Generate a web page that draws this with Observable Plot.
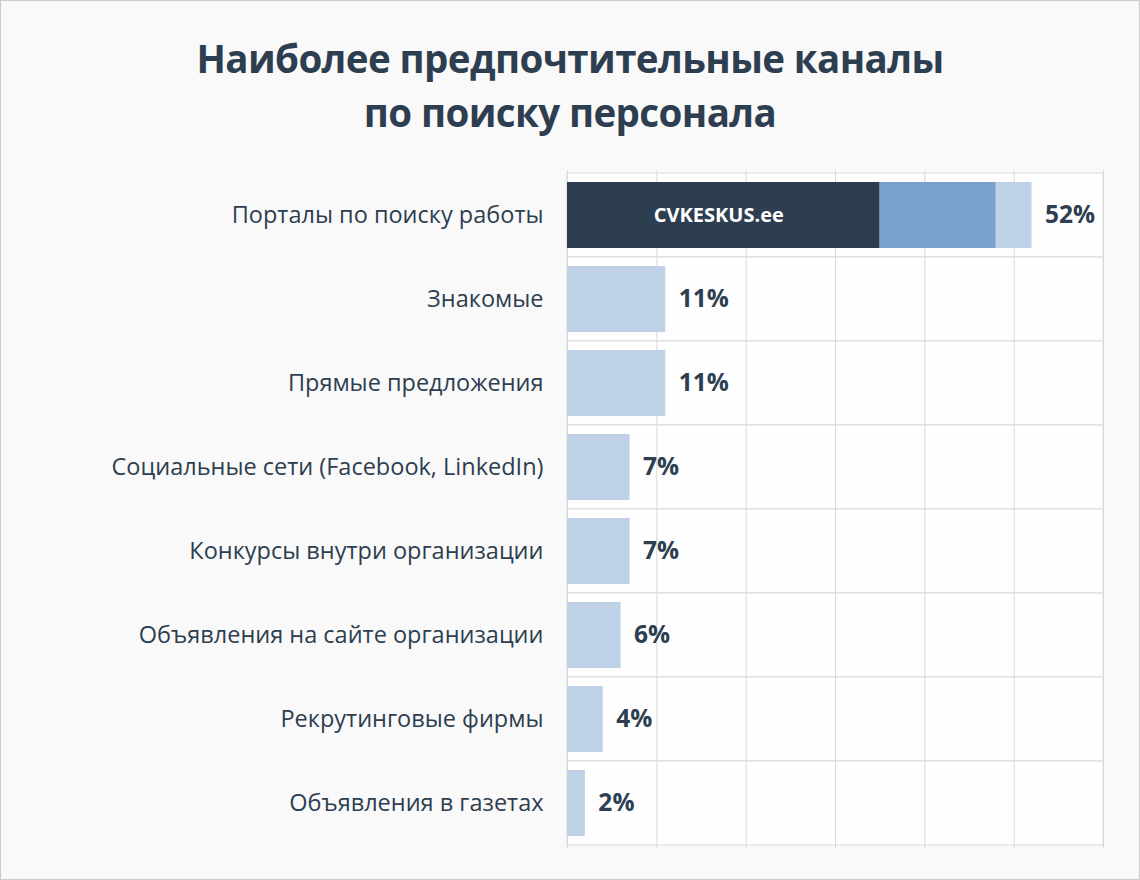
<!DOCTYPE html>
<html>
<head>
<meta charset="utf-8">
<script src="https://cdn.jsdelivr.net/npm/d3@7"></script>
<script src="https://cdn.jsdelivr.net/npm/@observablehq/plot@0.6"></script>
<style>
  html, body { margin: 0; padding: 0; background: #f9f9f9; }
  #wrap {
    width: 1140px; height: 880px; box-sizing: border-box;
    border: 1px solid #cccccc; background: #f9f9f9; overflow: hidden;
    font-family: "Open Sans", sans-serif; color: #2d3e50;
  }
  #title {
    width: 1138px; height: 148px; box-sizing: border-box;
    padding-top: 30px; text-align: center;
    font-weight: 700; font-size: 38.5px; line-height: 54px; letter-spacing: -0.6px;
    color: #2d3e50;
  }
  #chart { line-height: 0; }
  #chart svg { display: block; }
</style>
</head>
<body>
<div id="wrap">
  <div id="title">Наиболее предпочтительные каналы<br>по поиску персонала</div>
  <div id="chart"></div>
</div>
<script>
const categories = [
  "Порталы по поиску работы",
  "Знакомые",
  "Прямые предложения",
  "Социальные сети (Facebook, LinkedIn)",
  "Конкурсы внутри организации",
  "Объявления на сайте организации",
  "Рекрутинговые фирмы",
  "Объявления в газетах"
];
const values = [52, 11, 11, 7, 7, 6, 4, 2];
// breakdown of the first bar (sums to 52)
const portalSegments = [35, 13, 4];
const portalColors = ["#2d3e50", "#7aa0cc", "#bed1e6"];
const logoText = "CVKESKUS.ee";
const xTicks = [0, 10, 20, 30, 40, 50, 60];

const lightColor = "#bed1e6";
const textColor = "#2d3e50";

const barRows = [];
portalSegments.forEach((v, i) => barRows.push({category: categories[0], value: v, color: portalColors[i]}));
categories.slice(1).forEach((c, i) => barRows.push({category: c, value: values[i + 1], color: lightColor}));

const totals = categories.map((c, i) => ({category: c, value: values[i], label: values[i] + "%"}));

const chart = Plot.plot({
  width: 1138,
  height: 731,
  marginTop: 21,
  marginBottom: 32,
  marginLeft: 566,
  marginRight: 36,
  style: {background: "transparent", fontFamily: "Open Sans, sans-serif", color: textColor},
  x: {domain: [0, 60], axis: null},
  y: {domain: categories, padding: 0, label: null, tickSize: 0, tickPadding: 24},
  marks: [
    Plot.barX(categories, {x1: 0, x2: 60, y: d => d, fill: "#fefefe", stroke: "#d9d9d9", strokeWidth: 1}),
    Plot.ruleX(xTicks, {stroke: "#d9d9d9", strokeWidth: 1}),
    Plot.barX(barRows, {x: "value", y: "category", fill: "color", insetTop: 9, insetBottom: 9}),
    Plot.text([{category: categories[0], x: portalSegments[0] / 2}], {
      x: "x", y: "category", text: () => logoText, fill: "white",
      fontSize: 20, fontWeight: 700, textAnchor: "middle", dx: -5
    }),
    Plot.text(totals, {
      x: "value", y: "category", text: "label", dx: 13, textAnchor: "start",
      fill: textColor, fontSize: 24.5, fontWeight: 700
    }),
    Plot.axisY({tickSize: 0, tickPadding: 24, fontSize: 23.5, fill: textColor, label: null})
  ]
});
document.getElementById("chart").appendChild(chart);
</script>
</body>
</html>
